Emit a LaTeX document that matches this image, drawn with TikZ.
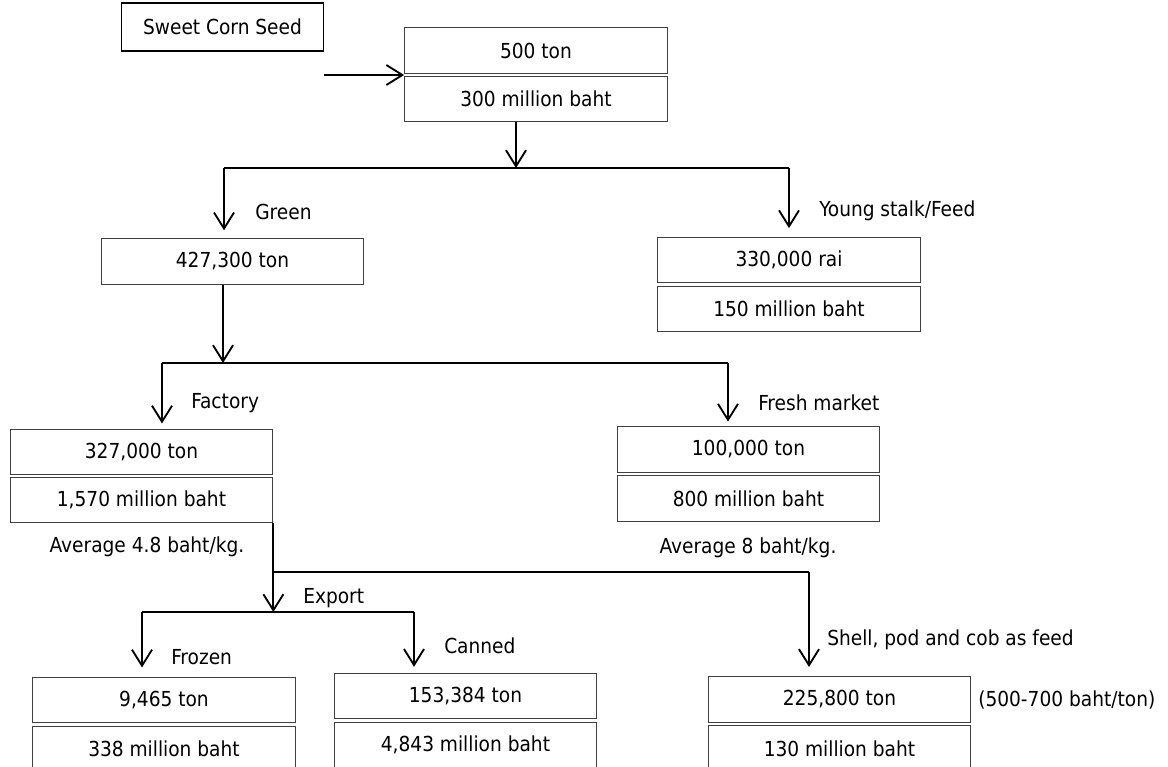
\documentclass[tikz,border=0pt]{standalone}
\usepackage{fontspec}
\setmainfont{DejaVu Sans Condensed}
\usetikzlibrary{arrows.meta}

\begin{document}
\begin{tikzpicture}[x=0.75pt, y=-0.75pt,
    box/.style={draw=black!75, line width=0.8pt, minimum width=197pt, minimum height=34pt, inner sep=0pt, font=\fontsize{15.5}{18}\selectfont},
    tag/.style={anchor=west, inner sep=0pt, font=\fontsize{15.5}{18}\selectfont},
    flow/.style={line width=1.4pt},
    arr/.style={flow, -{Straight Barb[length=12pt, width=15pt]}}]
            \clip (0,0) rectangle (1168,767);
            \useasboundingbox (0,0) rectangle (1168,767);

            % Seed
            \node[box, draw=black, minimum width=152pt, minimum height=36pt] (seed) at (222.5,27) {Sweet Corn Seed};
            \node[box] (ton500) at (536,50.5) {500 ton};
            \node[box] (baht300) at (536,99) {300 million baht};
            \coordinate (seedin) at (324,75);
            \draw[arr] (seedin) -- (seedin -| ton500.west);

            % Green / young stalk
            \coordinate (split1) at (516,168);
            \coordinate (green) at (224,168);
            \coordinate (young) at (789,168);
            \draw[arr] (baht300.south -| split1) -- (split1);
            \draw[flow] (green) -- (young);

            \node[box] (ton427) at (232.5,261.5) {427,300 ton};
            \node[box] (rai330) at (789,260) {330,000 rai};
            \node[box] (baht150) at (789,309) {150 million baht};
            \draw[arr, shorten >=6pt] (green) -- (green |- ton427.north);
            \draw[arr, shorten >=6.5pt] (young) -- (young |- rai330.north);
            \node[tag] (lgreen) at (255,212) {Green};
            \node[tag] (lyoung) at (819,211) {Young stalk/Feed};

            % Factory / fresh market
            \coordinate (split2) at (223,363);
            \coordinate (factory) at (162,363);
            \coordinate (fresh) at (728,363);
            \draw[arr] (ton427.south -| split2) -- (split2);
            \draw[flow] (factory) -- (fresh);

            \node[box] (ton327) at (141.5,452) {327,000 ton};
            \node[box] (baht1570) at (141.5,500) {1,570 million baht};
            \node[box] (ton100) at (748.5,449.5) {100,000 ton};
            \node[box] (baht800) at (748.5,498.5) {800 million baht};
            \draw[arr, shorten >=4pt] (factory) -- (factory |- ton327.north);
            \draw[arr, shorten >=3.5pt] (fresh) -- (fresh |- ton100.north);
            \node[tag] (lfactory) at (191,403) {Factory};
            \node[tag] (lfresh) at (758,403) {Fresh market};
            \node[tag, anchor=center] (avg48) at (147,547) {Average 4.8 baht/kg.};
            \node[tag, anchor=center] (avg8) at (748,548) {Average 8 baht/kg.};

            % Export / feed
            \coordinate (shell) at (809,572);
            \coordinate (frozen) at (142,612);
            \coordinate (canned) at (414,612);
            \draw[arr] (baht1570.south east) -- (baht1570.south east |- frozen);
            \draw[flow] (baht1570.south east |- shell) -- (shell);
            \draw[flow] (frozen) -- (canned);

            \node[box] (ton9465) at (164,700) {9,465 ton};
            \node[box] (baht338) at (164,749) {338 million baht};
            \node[box] (ton153) at (465.5,696) {153,384 ton};
            \node[box] (baht4843) at (465.5,745) {4,843 million baht};
            \node[box] (ton225) at (839.5,699.5) {225,800 ton};
            \node[box] (baht130) at (839.5,748.5) {130 million baht};
            \draw[arr, shorten >=7pt] (frozen) -- (frozen |- ton9465.north);
            \draw[arr, shorten >=4.5pt] (canned) -- (canned |- ton153.north);
            \draw[arr, shorten >=7pt] (shell) -- (shell |- ton225.north);
            \node[tag] (lexport) at (303,598) {Export};
            \node[tag] (lfrozen) at (171,657) {Frozen};
            \node[tag] (lcanned) at (444,646) {Canned};
            \node[tag] (lshell) at (827,640) {Shell, pod and cob as feed};
            \node[tag] (price) at (978,700) {(500-700 baht/ton)};
        \end{tikzpicture}
\end{document}
